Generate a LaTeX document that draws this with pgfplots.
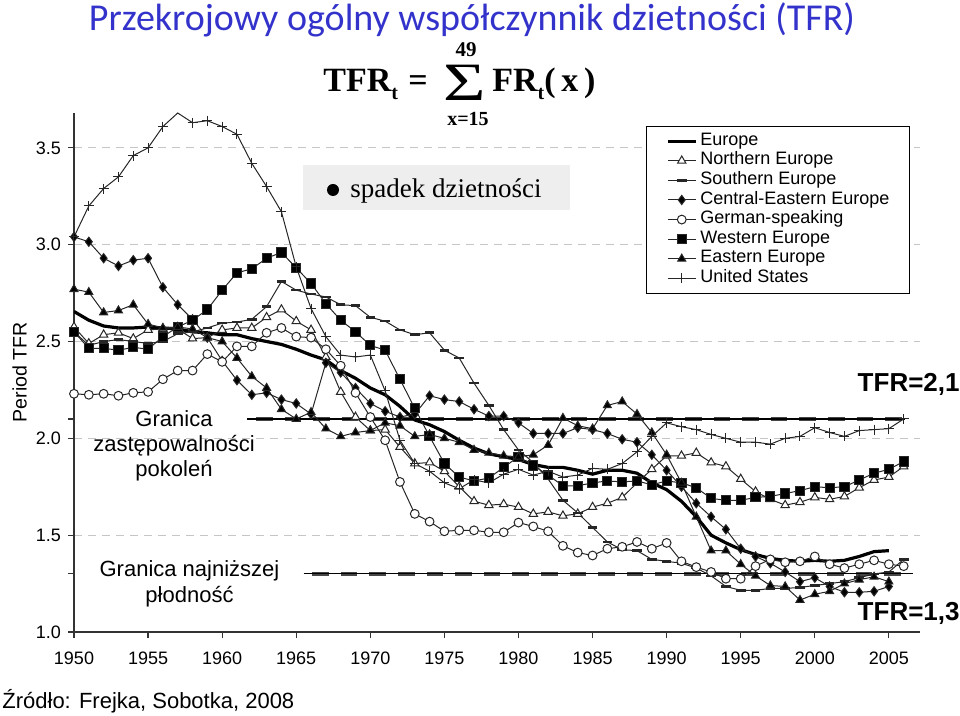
\documentclass[border=0pt]{standalone}
\usepackage{fontspec}
\setmainfont{Liberation Sans}
\newfontfamily\timesf{Liberation Serif}
\newfontfamily\calibrif{Carlito}
\usepackage{pgfplots}
\usepackage{pgfplotstable}
\pgfplotsset{compat=1.18}
\definecolor{titleblue}{RGB}{51,51,204}
\definecolor{refgray}{RGB}{70,70,70}
\definecolor{boxgray}{RGB}{238,238,238}

% period TFR by region
\pgfplotstableread{
year eu north south cee ger west east us
1950 2.655 2.575 2.55 3.04 2.23 2.55 2.77 3.04
1951 2.61 2.49 2.48 3.015 2.225 2.465 2.755 3.20
1952 2.58 2.535 2.50 2.93 2.23 2.465 2.65 3.29
1953 2.57 2.545 2.51 2.89 2.22 2.455 2.66 3.35
1954 2.57 2.515 2.50 2.92 2.235 2.47 2.69 3.46
1955 2.575 2.56 2.49 2.93 2.24 2.46 2.59 3.50
1956 2.57 2.565 2.50 2.78 2.305 2.525 2.57 3.61
1957 2.565 2.565 2.54 2.69 2.35 2.575 2.575 3.68
1958 2.55 2.515 2.55 2.615 2.35 2.61 2.565 3.63
1959 2.545 2.52 2.57 2.52 2.435 2.665 2.52 3.64
1960 2.535 2.56 2.595 2.40 2.395 2.765 2.50 3.61
1961 2.535 2.57 2.60 2.30 2.475 2.855 2.415 3.57
1962 2.515 2.57 2.615 2.225 2.475 2.875 2.32 3.42
1963 2.50 2.625 2.68 2.235 2.545 2.93 2.26 3.30
1964 2.485 2.665 2.81 2.20 2.57 2.96 2.15 3.17
1965 2.46 2.605 2.765 2.18 2.525 2.88 2.10 2.885
1966 2.43 2.56 2.745 2.125 2.52 2.80 2.135 2.67
1967 2.405 2.42 2.73 2.39 2.46 2.695 2.05 2.525
1968 2.35 2.24 2.69 2.34 2.375 2.61 2.01 2.43
1969 2.31 2.11 2.685 2.26 2.235 2.55 2.03 2.42
1970 2.26 2.04 2.625 2.18 2.11 2.48 2.04 2.43
1971 2.225 2.045 2.605 2.14 1.99 2.455 2.08 2.245
1972 2.165 1.955 2.56 2.11 1.775 2.305 2.065 1.99
1973 2.095 1.87 2.535 2.125 1.61 2.155 2.01 1.87
1974 2.07 1.875 2.545 2.22 1.57 2.01 2.02 1.83
1975 2.035 1.83 2.455 2.20 1.52 1.87 2.00 1.77
1976 1.99 1.75 2.415 2.19 1.525 1.80 1.98 1.74
1977 1.95 1.675 2.285 2.15 1.525 1.78 1.94 1.785
1978 1.92 1.655 2.17 2.115 1.515 1.795 1.925 1.77
1979 1.905 1.66 2.045 2.115 1.515 1.85 1.91 1.815
1980 1.89 1.645 1.94 2.08 1.565 1.905 1.905 1.84
1981 1.865 1.61 1.875 2.025 1.545 1.86 1.915 1.81
1982 1.85 1.62 1.79 2.025 1.52 1.81 1.965 1.83
1983 1.85 1.60 1.68 2.025 1.445 1.755 2.105 1.80
1984 1.835 1.61 1.615 2.055 1.41 1.755 2.065 1.81
1985 1.815 1.645 1.54 2.045 1.395 1.77 2.05 1.845
1986 1.835 1.665 1.465 2.025 1.43 1.78 2.17 1.84
1987 1.835 1.695 1.425 1.995 1.44 1.775 2.19 1.87
1988 1.82 1.77 1.42 1.98 1.465 1.78 2.125 1.93
1989 1.77 1.84 1.375 1.915 1.43 1.76 2.03 2.01
1990 1.735 1.91 1.365 1.835 1.46 1.78 1.915 2.08
1991 1.675 1.91 1.355 1.75 1.365 1.77 1.77 2.06
1992 1.595 1.925 1.33 1.665 1.335 1.745 1.595 2.045
1993 1.50 1.875 1.29 1.595 1.31 1.69 1.42 2.02
1994 1.46 1.855 1.235 1.53 1.275 1.68 1.42 2.00
1995 1.425 1.79 1.215 1.43 1.275 1.68 1.35 1.98
1996 1.40 1.725 1.215 1.39 1.34 1.695 1.29 1.98
1997 1.38 1.685 1.225 1.355 1.375 1.70 1.24 1.97
1998 1.37 1.655 1.225 1.31 1.36 1.715 1.235 2.00
1999 1.365 1.67 1.23 1.26 1.365 1.73 1.165 2.01
2000 1.37 1.695 1.24 1.28 1.39 1.75 1.195 2.055
2001 1.365 1.685 1.25 1.235 1.35 1.745 1.21 2.03
2002 1.37 1.70 1.26 1.205 1.33 1.75 1.25 2.01
2003 1.39 1.745 1.28 1.205 1.35 1.785 1.27 2.04
2004 1.415 1.785 1.30 1.21 1.37 1.82 1.285 2.045
2005 1.42 1.80 1.31 1.235 1.35 1.84 1.26 2.05
2006 nan 1.855 1.375 nan 1.34 1.88 nan 2.10
}\tfr

\begin{document}
\begin{tikzpicture}
\useasboundingbox (0,0) rectangle (480pt,358pt);
\begin{axis}[
    at={(37pt,42pt)}, anchor=south west,
    scale only axis, width=423pt, height=259.5pt,
    xmin=1950, xmax=2007.1, ymin=1, ymax=3.68,
    axis lines=left,
    axis line style={-, black!80, line width=0.6pt},
    tick align=outside, major tick length=3pt,
    tick style={black!80, line width=0.6pt},
    xtick={1950,1955,...,2005},
    ytick={1,1.5,2,2.5,3,3.5},
    extra y ticks={1.3,2.1}, extra y tick labels={},
    extra y tick style={grid=none},
    x tick label style={/pgf/number format/1000 sep={}, yshift=-3.5pt},
    y tick label style={/pgf/number format/.cd, fixed, fixed zerofill, precision=1},
    tick label style={font=\fontsize{9}{9}\selectfont},
    /pgf/number format/assume math mode=true,
    ymajorgrids,
    major grid style={gray!45, dash pattern=on 4pt off 3pt, line width=0.5pt},
    every axis plot/.append style={black!85, line width=0.5pt},
    legend style={at={(0.988,0.975)}, anchor=north east, draw=black,
        fill=white, font=\fontsize{9}{9}\selectfont,
        inner xsep=10pt, inner ysep=2.5pt, row sep=0pt, column sep=1.5pt,
        nodes={inner sep=0pt, text height=7pt, text depth=2.8pt}},
    legend cell align=left,
    legend image code/.code={\draw[mark repeat=2,mark phase=2,#1]
        plot coordinates {(0pt,0pt) (7pt,0pt) (14pt,0pt)};},
]
% reference levels 2.1 and 1.3
\addplot[forget plot, refgray, line width=2pt, dash pattern=on 8.3pt off 6pt, dash phase=10pt]
    coordinates {(1961.7,2.1) (2006.1,2.1)};
\addplot[forget plot, black, line width=0.6pt] coordinates {(1961.7,2.1) (2006.1,2.1)};
\addplot[forget plot, refgray, line width=2pt, dash pattern=on 8.3pt off 6pt, dash phase=10pt]
    coordinates {(1965.5,1.3) (2006.6,1.3)};
\addplot[forget plot, black, line width=0.6pt] coordinates {(1965.5,1.3) (2006.6,1.3)};

\addplot[black, line width=1.6pt, no marks] table[x=year, y=eu] {\tfr};
\addlegendentry{Europe}
\addplot[mark=triangle*, mark size=2.4pt, mark options={fill=white, line width=0.5pt}] table[x=year, y=north] {\tfr};
\addlegendentry{Northern Europe}
\addplot[mark=-, mark size=2.4pt, mark options={line width=1.3pt}] table[x=year, y=south] {\tfr};
\addlegendentry{Southern Europe}
\addplot[mark=diamond*, mark size=2.3pt, mark options={fill=black}] table[x=year, y=cee] {\tfr};
\addlegendentry{Central-Eastern Europe}
\addplot[mark=*, mark size=2.2pt, mark options={fill=white, line width=0.5pt}] table[x=year, y=ger] {\tfr};
\addlegendentry{German-speaking}
\addplot[mark=square*, mark size=2.3pt, mark options={fill=black}] table[x=year, y=west] {\tfr};
\addlegendentry{Western Europe}
\addplot[mark=triangle*, mark size=2.3pt, mark options={fill=black}] table[x=year, y=east] {\tfr};
\addlegendentry{Eastern Europe}
\addplot[mark=+, mark size=2.5pt,
    mark indices={1,2,3,4,5,6,7,9,10,11,12,13,14,15,16,17,18,19,20,21,22,23,24,25,26,27,28,29,30,31,32,33,34,35,36,37,38,39,40,41,42,43,44,45,46,47,48,49,50,51,52,53,54,55,56,57},
    legend image post style={mark indices={2}}]
    table[x=year, y=us] {\tfr};
\addlegendentry{United States}
\end{axis}

% title and formula
\node[anchor=base, inner sep=0, text=titleblue, font=\calibrif\fontsize{19}{19}\selectfont]
    at (236pt,342.5pt) {Przekrojowy ogólny współczynnik dzietności (TFR)};
\node[anchor=base west, inner sep=0, font=\timesf\bfseries\fontsize{17}{17}\selectfont]
    at (161.5pt,312pt) {TFR\raisebox{-0.22em}{\fontsize{10}{10}\selectfont t}\hspace{0.3em}=};
\node[anchor=base, inner sep=0, font=\timesf\fontsize{27}{27}\selectfont]
    at (232.5pt,307.5pt) {\scalebox{1.35}[1]{Σ}};
\node[anchor=base, inner sep=0, font=\timesf\bfseries\fontsize{10.5}{10.5}\selectfont]
    at (233pt,329.5pt) {49};
\node[anchor=base, inner sep=0, font=\timesf\bfseries\fontsize{10}{10}\selectfont]
    at (234pt,295pt) {x=15};
\node[anchor=base west, inner sep=0, font=\timesf\bfseries\fontsize{17}{17}\selectfont]
    at (246pt,312pt) {FR\raisebox{-0.22em}{\fontsize{10}{10}\selectfont t}(\,x\,)};

% decline note
\fill[boxgray] (151.5pt,253pt) rectangle (285pt,275.5pt);
\fill[black] (166.5pt,263pt) circle (3pt);
\node[anchor=base west, inner sep=0, font=\timesf\fontsize{13.5}{13.5}\selectfont]
    at (175pt,259pt) {spadek dzietności};

% annotations
\node[rotate=90, inner sep=0, font=\fontsize{9.8}{9.8}\selectfont] at (9.75pt,172pt) {Period TFR};
\node[align=center, inner sep=0, font=\fontsize{11}{12.5}\selectfont] at (87pt,135pt)
    {Granica\\zastępowalności\\pokoleń};
\node[align=center, inner sep=0, font=\fontsize{11}{13}\selectfont] at (94.75pt,66.25pt)
    {Granica najniższej\\płodność};
\node[anchor=east, inner sep=0, font=\bfseries\fontsize{13}{13}\selectfont] at (480pt,166pt) {TFR=2,1};
\node[anchor=east, inner sep=0, font=\bfseries\fontsize{13}{13}\selectfont] at (480pt,51.5pt) {TFR=1,3};
\node[anchor=base west, inner sep=0, font=\fontsize{11}{11}\selectfont] at (1pt,3.5pt)
    {Źródło: Frejka, Sobotka, 2008};
\end{tikzpicture}
\end{document}
